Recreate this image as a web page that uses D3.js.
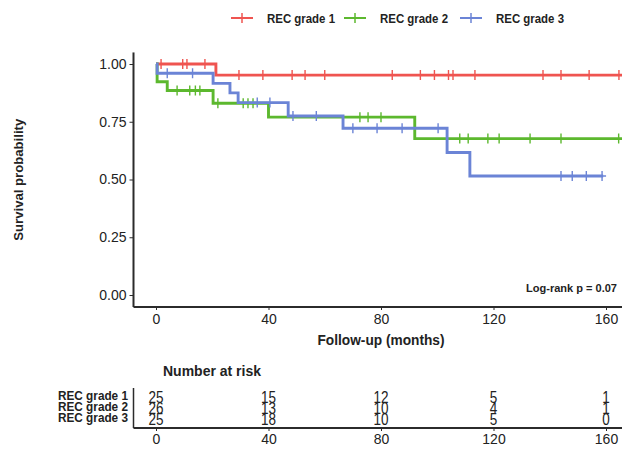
<!DOCTYPE html>
<html><head><meta charset="utf-8">
<script src="https://cdn.jsdelivr.net/npm/d3@7"></script>
<style>
html,body{margin:0;padding:0;background:#fff;}
svg{display:block;}
text{font-family:"Liberation Sans",Arial,sans-serif;}
</style></head>
<body>
<svg id="chart" width="622" height="450"></svg>
<script>
// ---- data ----
const groups = ["REC grade 1", "REC grade 2", "REC grade 3"];
const colors = ["#ef5450", "#5cb82e", "#6b84d6"];
const xTicks = [0, 40, 80, 120, 160];
const yTicks = [0, 0.25, 0.5, 0.75, 1];

const stepTimes1 = [0, 21.3];
const survival1 = [1.0, 0.952];
const endTime1 = 166;
const censor1 = [1.8, 9.5, 11, 17.4, 29.5, 38, 48.4, 53, 60, 84, 94, 99, 104, 105.6, 113.4, 137.6, 144, 154, 164.6];

const stepTimes2 = [0, 0.4, 4, 20.3, 40, 92];
const survival2 = [1.0, 0.923, 0.885, 0.83, 0.77, 0.677];
const endTime2 = 166;
const censor2 = [7.5, 12, 14, 15.6, 22, 31, 32.7, 34.5, 72.5, 75.4, 80, 108, 111, 118, 122, 133, 144, 164.5];

const stepTimes3 = [0, 0.4, 20.3, 26.3, 29.2, 47, 66.5, 103.5, 111.6];
const survival3 = [1.0, 0.96, 0.916, 0.875, 0.833, 0.775, 0.722, 0.617, 0.515];
const endTime3 = 159;
const censor3 = [4, 13, 36, 40.5, 48.7, 57, 70, 78.6, 87.5, 100.3, 144, 148, 153, 158.6];

const risk1 = [25, 15, 12, 5, 1];
const risk2 = [26, 13, 10, 4, 1];
const risk3 = [25, 18, 10, 5, 0];
const pValueLabel = "Log-rank p = 0.07";

// ---- layout ----
const svg = d3.select("#chart");
const x = d3.scaleLinear().domain([0, 160]).range([156, 606]);
const y = d3.scaleLinear().domain([0, 1]).range([295, 64]);
const panelLeft = x(-8), panelRight = x(168);
const yBottom = 307, yTop = y(1.05);
const axisColor = "#2b2b2b";

// legend
const legX = [242, 355, 471];
groups.forEach((g, i) => {
  const lg = svg.append("g");
  lg.append("line").attr("x1", legX[i] - 11).attr("x2", legX[i] + 11).attr("y1", 18).attr("y2", 18)
    .attr("stroke", colors[i]).attr("stroke-width", 2);
  lg.append("line").attr("x1", legX[i]).attr("x2", legX[i]).attr("y1", 13).attr("y2", 23)
    .attr("stroke", colors[i]).attr("stroke-width", 1.5);
  lg.append("text").attr("x", legX[i] + 25).attr("y", 22.5).attr("font-size", 13).attr("font-weight", "bold")
    .attr("textLength", 68).attr("lengthAdjust", "spacingAndGlyphs")
    .attr("fill", "#222").text(g);
});

// clip
svg.append("clipPath").attr("id", "clip").append("rect")
  .attr("x", panelLeft).attr("y", yTop - 5).attr("width", panelRight - panelLeft).attr("height", yBottom - yTop + 5);

const series = [
  {t: stepTimes1, s: survival1, end: endTime1, c: censor1},
  {t: stepTimes2, s: survival2, end: endTime2, c: censor2},
  {t: stepTimes3, s: survival3, end: endTime3, c: censor3}
];
const line = d3.line().x(d => x(d[0])).y(d => y(d[1])).curve(d3.curveStepAfter);
const plot = svg.append("g").attr("clip-path", "url(#clip)");
function survAt(ser, t) {
  let v = ser.s[0];
  for (let k = 0; k < ser.t.length; k++) if (ser.t[k] <= t) v = ser.s[k];
  return v;
}
series.forEach((ser, i) => {
  const pts = ser.t.map((t, k) => [t, ser.s[k]]);
  pts.push([ser.end, ser.s[ser.s.length - 1]]);
  plot.append("path").attr("d", line(pts)).attr("fill", "none")
    .attr("stroke", colors[i]).attr("stroke-width", 2.9);
  ser.c.forEach(ct => {
    const cx = x(ct), cy = y(survAt(ser, ct));
    plot.append("line").attr("x1", cx).attr("x2", cx).attr("y1", cy - 5).attr("y2", cy + 5)
      .attr("stroke", colors[i]).attr("stroke-width", 1.4);
    plot.append("line").attr("x1", cx - 4).attr("x2", cx + 4).attr("y1", cy).attr("y2", cy)
      .attr("stroke", colors[i]).attr("stroke-width", 1.4);
  });
});

// axes
const yAxis = svg.append("g").attr("transform", `translate(${panelLeft},0)`)
  .call(d3.axisLeft(y).tickValues(yTicks).tickFormat(d3.format(".2f")).tickSize(4).tickPadding(3));
yAxis.select(".domain").remove();
svg.append("line").attr("x1", panelLeft).attr("x2", panelLeft).attr("y1", yTop).attr("y2", yBottom)
  .attr("stroke", axisColor).attr("stroke-width", 2);
yAxis.selectAll("text").attr("font-family", "'Liberation Sans', Arial, sans-serif").attr("font-size", 14).attr("fill", "#222");
yAxis.selectAll(".tick line").attr("stroke", axisColor);

const xAxis = svg.append("g").attr("transform", `translate(0,${yBottom})`)
  .call(d3.axisBottom(x).tickValues(xTicks).tickSize(3).tickPadding(4));
xAxis.select(".domain").remove();
svg.append("line").attr("x1", panelLeft).attr("x2", panelRight).attr("y1", yBottom).attr("y2", yBottom)
  .attr("stroke", axisColor).attr("stroke-width", 2);
xAxis.selectAll("text").attr("font-family", "'Liberation Sans', Arial, sans-serif").attr("font-size", 14).attr("fill", "#222");
xAxis.selectAll(".tick line").attr("stroke", axisColor);

svg.append("text").attr("x", (panelLeft + panelRight) / 2).attr("y", 345).attr("text-anchor", "middle")
  .attr("font-size", 14).attr("font-weight", "bold").attr("fill", "#222")
  .attr("textLength", 127).attr("lengthAdjust", "spacingAndGlyphs").text("Follow-up (months)");
svg.append("text").attr("transform", `translate(23,${(yTop + yBottom) / 2}) rotate(-90)`).attr("text-anchor", "middle")
  .attr("font-size", 13.5).attr("font-weight", "bold").attr("fill", "#222")
  .attr("textLength", 122).attr("lengthAdjust", "spacingAndGlyphs").text("Survival probability");

svg.append("text").attr("x", 526).attr("y", 292).attr("font-size", 11).attr("font-weight", "bold")
  .attr("textLength", 91).attr("lengthAdjust", "spacingAndGlyphs")
  .attr("fill", "#222").text(pValueLabel);

// risk table
svg.append("text").attr("x", 163).attr("y", 376).attr("font-size", 14).attr("font-weight", "bold")
  .attr("textLength", 98).attr("lengthAdjust", "spacingAndGlyphs")
  .attr("fill", "#222").text("Number at risk");
const riskRows = [risk1, risk2, risk3];
const rowY = [401, 412, 423];
const tableBottom = 428;
riskRows.forEach((row, i) => {
  svg.append("text").attr("x", 128).attr("y", rowY[i] - 1).attr("text-anchor", "end")
    .attr("font-size", 12.5).attr("font-weight", "bold").attr("fill", "#222")
    .attr("textLength", 70).attr("lengthAdjust", "spacingAndGlyphs").text(groups[i]);
  row.forEach((v, k) => {
    const s = String(v);
    svg.append("text").attr("x", x(xTicks[k])).attr("y", rowY[i] + 2).attr("text-anchor", "middle")
      .attr("font-size", 16).attr("fill", "#222")
      .attr("textLength", 7.5 * s.length).attr("lengthAdjust", "spacingAndGlyphs").text(s);
  });
});
svg.append("line").attr("x1", panelLeft).attr("x2", panelLeft).attr("y1", 388).attr("y2", tableBottom)
  .attr("stroke", axisColor).attr("stroke-width", 1.5);
const rAxis = svg.append("g").attr("transform", `translate(0,${tableBottom})`)
  .call(d3.axisBottom(x).tickValues(xTicks).tickSize(3).tickPadding(3));
rAxis.select(".domain").remove();
svg.append("line").attr("x1", panelLeft).attr("x2", panelRight).attr("y1", tableBottom).attr("y2", tableBottom)
  .attr("stroke", axisColor).attr("stroke-width", 1.8);
rAxis.selectAll("text").attr("font-family", "'Liberation Sans', Arial, sans-serif").attr("font-size", 14).attr("fill", "#222");
rAxis.selectAll(".tick line").attr("stroke", axisColor);
</script>
</body></html>
